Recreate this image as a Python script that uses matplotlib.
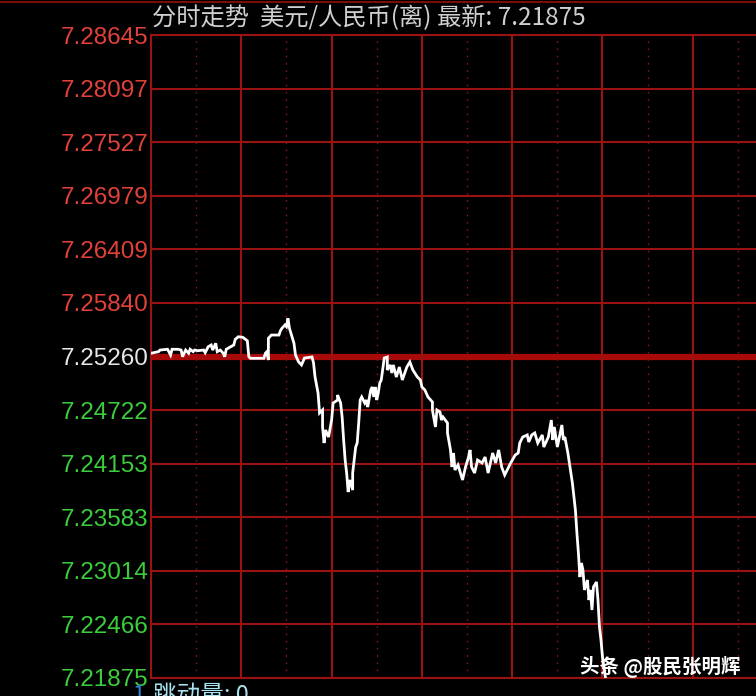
import numpy as np
import matplotlib
matplotlib.use("Agg")
import matplotlib.pyplot as plt
from matplotlib.lines import Line2D

# minutes since open, price
minutes = [0, 5, 6, 11, 13, 14, 18, 20, 21, 23, 25, 26, 28, 29, 31, 35, 36, 38, 40, 41,
           43, 44, 46, 48, 49, 50, 55, 56, 58, 61, 64, 65, 66, 75, 76, 77, 78, 78, 80, 85,
           86, 87, 89, 90, 91, 92, 93, 95, 96, 98, 100, 102, 107, 108, 109, 111, 112, 114, 114, 115,
           116, 118, 120, 121, 124, 124, 126, 127, 128, 129, 130, 131, 132, 134, 134, 136, 137, 138, 139, 140,
           142, 143, 144, 146, 147, 148, 149, 150, 151, 152, 153, 155, 157, 157, 159, 160, 161, 163, 165, 167,
           170, 172, 174, 177, 179, 180, 182, 184, 187, 187, 189, 190, 192, 193, 194, 197, 197, 199, 200, 201,
           202, 204, 207, 209, 211, 212, 213, 215, 217, 220, 222, 224, 227, 229, 231, 233, 235, 239, 242, 244,
           245, 247, 250, 251, 253, 255, 257, 260, 261, 264, 266, 267, 268, 270, 273, 274, 275, 276, 277, 278,
           280, 281, 282, 283, 284, 285, 286, 287, 288, 290, 291, 292, 293, 294, 296, 297, 298, 299, 300, 302]
prices = [7.25294, 7.25311, 7.25328, 7.25336, 7.25276, 7.25336, 7.25336, 7.25328, 7.25258, 7.25328,
          7.25294, 7.25336, 7.25311, 7.25328, 7.25321, 7.25328, 7.25300, 7.25363, 7.25381, 7.25328,
          7.25399, 7.25311, 7.25328, 7.25294, 7.25258, 7.25336, 7.25381, 7.25441, 7.25468, 7.25462,
          7.25426, 7.25258, 7.25241, 7.25241, 7.25294, 7.25311, 7.25223, 7.25452, 7.25486, 7.25486,
          7.25532, 7.25557, 7.25592, 7.25574, 7.25662, 7.25557, 7.25504, 7.25399, 7.25276, 7.25205,
          7.25171, 7.25244, 7.25255, 7.25192, 7.25044, 7.24876, 7.24665, 7.24697, 7.24518, 7.24349,
          7.24486, 7.24412, 7.24591, 7.24770, 7.24802, 7.24855, 7.24770, 7.24623, 7.24381, 7.24170,
          7.24033, 7.23833, 7.23960, 7.23854, 7.24033, 7.24307, 7.24349, 7.24560, 7.24802, 7.24834,
          7.24770, 7.24802, 7.24728, 7.24907, 7.24939, 7.24834, 7.24939, 7.24802, 7.24876, 7.24981,
          7.25013, 7.25244, 7.25255, 7.25118, 7.25171, 7.25086, 7.25171, 7.25044, 7.25149, 7.25013,
          7.25149, 7.25202, 7.25118, 7.25044, 7.25013, 7.24939, 7.24907, 7.24834, 7.24781, 7.24697,
          7.24518, 7.24697, 7.24676, 7.24591, 7.24623, 7.24560, 7.24455, 7.24276, 7.24097, 7.24244,
          7.24065, 7.24118, 7.23960, 7.24097, 7.24202, 7.24276, 7.24097, 7.24033, 7.24170, 7.24139,
          7.24202, 7.24033, 7.24244, 7.24139, 7.24276, 7.24097, 7.24012, 7.24139, 7.24223, 7.24244,
          7.24349, 7.24412, 7.24434, 7.24360, 7.24434, 7.24455, 7.24349, 7.24434, 7.24307, 7.24412,
          7.24591, 7.24381, 7.24518, 7.24307, 7.24539, 7.24381, 7.24412, 7.24328, 7.24244, 7.24139,
          7.23928, 7.23781, 7.23644, 7.23402, 7.23191, 7.22938, 7.23086, 7.23012, 7.22802, 7.22907,
          7.22696, 7.22802, 7.22591, 7.22833, 7.22886, 7.22696, 7.22412, 7.22275, 7.22096, 7.21875]

tick_labels = ["7.28645", "7.28097", "7.27527", "7.26979", "7.26409", "7.25840", "7.25260",
               "7.24722", "7.24153", "7.23583", "7.23014", "7.22466", "7.21875"]
prev_close = 7.25260
latest = 7.21875
top_price = 7.28645

title_text = "分时走势  美元/人民币(离) 最新: 7.21875"

cjk = ["Noto Sans CJK SC", "DejaVu Sans"]

fig = plt.figure(figsize=(7.56, 6.96), dpi=100, facecolor="black")
ax = fig.add_axes([151 / 756, 18 / 696, 605 / 756, 643 / 696])
ax.set_facecolor("black")

# evenly spaced price levels (grid is linear, labels are rounded)
levels = np.linspace(top_price, latest, len(tick_labels))
ax.set_ylim(latest, top_price)
ax.set_xlim(0, 402)

for i, lv in enumerate(levels):
    if tick_labels[i] == "7.25260":
        ax.axhline(lv, color="#a80a0a", lw=4.5, zorder=1)
    else:
        ax.axhline(lv, color="#9a1212", lw=1.5, zorder=1, clip_on=False)

for t in np.arange(0, 420, 60):
    ax.axvline(t, color="#9a1212", lw=1.5, zorder=1, clip_on=False)
for t in np.arange(30, 420, 60):
    ax.axvline(t, color="#741c1c", lw=1.0, ls=(0, (1.2, 4)), zorder=1)

ax.plot(minutes, prices, color="white", lw=2.0, zorder=3, solid_joinstyle="miter")

for s in ax.spines.values():
    s.set_visible(False)
ax.set_xticks([])
ax.set_yticks(levels)
ax.set_yticklabels(tick_labels, fontsize=17.5, family="Liberation Sans")
ax.tick_params(axis="y", length=0, pad=2)
for lab, txt in zip(ax.get_yticklabels(), tick_labels):
    v = float(txt)
    if abs(v - prev_close) < 1e-6:
        lab.set_color("#e6e6e6")
    elif v > prev_close:
        lab.set_color("#e2413a")
    else:
        lab.set_color("#3ccd3c")

# top border line of the window
fig.add_artist(Line2D([0, 1], [1 - 1.5 / 696, 1 - 1.5 / 696], color="#7a0c0c", lw=1.5))

fig.text(152 / 756, 1 - 18 / 696, title_text, color="#cfcfcf", fontsize=17.5,
         family=cjk, ha="left", va="center")

fig.text(133 / 756, 1 - 684 / 696, "1", color="#2f7fe0", fontsize=16,
         family=cjk, ha="left", va="top")
fig.text(153 / 756, 1 - 684 / 696, "跳动量: 0", color="#a8e4f2", fontsize=17,
         family=cjk, ha="left", va="top")

fig.text(580 / 756, 1 - 667 / 696, "头条 @股民张明辉", color="white", fontsize=14,
         family=cjk, fontweight="bold", ha="left", va="center")

fig.savefig("out.png", dpi=100, facecolor="black")
